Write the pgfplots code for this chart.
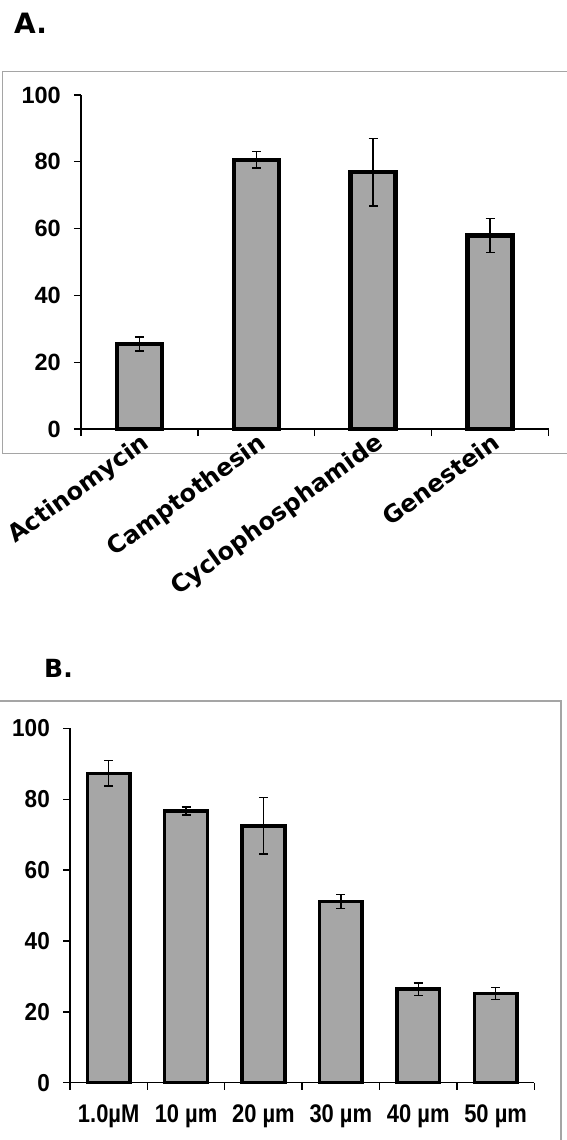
\documentclass[border=0pt]{standalone}
\usepackage{fontspec}
\setmainfont{Liberation Sans}
\newfontfamily\dejavu{DejaVu Sans}
\newfontfamily\narrowfont[FakeStretch=0.86]{Liberation Sans}
\newfontfamily\semifont[FakeStretch=0.92]{Liberation Sans}
\usepackage{pgfplots}
\pgfplotsset{compat=1.18}
\definecolor{barfill}{RGB}{166,166,166}
\definecolor{framegray}{RGB}{165,165,165}
\begin{document}
\begin{tikzpicture}[x=1pt,y=1pt]
\useasboundingbox (0,0) rectangle (567,-1140);
\draw[framegray, line width=1.5pt] (2.7,-71.7) rectangle (590,-453.3);
\draw[framegray, line width=1.5pt] (-10,-701) rectangle (561,-1160);
\node[anchor=base west, inner sep=0pt, font=\dejavu\bfseries\fontsize{28}{28}\selectfont] at (14,-34) {A.};
\node[anchor=base west, inner sep=0pt, font=\dejavu\bfseries\fontsize{25}{25}\selectfont] at (44,-677) {B.};

\begin{axis}[
  at={(81pt,-429pt)}, anchor=south west, scale only axis,
  width=467.5pt, height=334pt,
  xmin=-0.5, xmax=3.5, ymin=0, ymax=100,
  axis lines=left, axis line style={-, line width=1.5pt, black},
  tick align=outside, major tick length=7pt,
  tick style={line width=1.3pt, black},
  ytick={0,20,40,60,80,100},
  yticklabel={\pgfmathprintnumber{\tick}\hspace*{13pt}},
  yticklabel style={anchor=east, font=\bfseries\fontsize{23.5}{23.5}\selectfont, /pgf/number format/assume math mode=true, inner sep=0pt},
  xtick={-0.5,0.5,1.5,2.5,3.5}, xticklabels={,,,,},
  extra x ticks={0,1,2,3},
  extra x tick labels={Actinomycin,Camptothesin,Cyclophosphamide,Genestein},
  extra x tick style={major tick length=0pt, xticklabel style={rotate=36, anchor=north east, inner sep=0pt, font=\dejavu\bfseries\fontsize{24}{24}\selectfont, xshift=-1pt, yshift=-2pt}},
  clip=false,
]
\addplot[ybar, bar width=45pt, fill=barfill, draw=black, line width=4.5pt,
  error bars/.cd, y dir=both, y explicit,
  error bar style={line width=1.4pt, black},
  error mark options={rotate=90, line width=1.4pt, black, mark size=4.5pt}]
  coordinates {(0,25.5) +- (0,2.1) (1,80.6) +- (0,2.4) (2,76.9) +- (0,10.1) (3,58.0) +- (0,5.1)};
\end{axis}

\begin{axis}[
  at={(70pt,-1082.7pt)}, anchor=south west, scale only axis,
  width=464.3pt, height=354.3pt,
  xmin=-0.5, xmax=5.5, ymin=0, ymax=100,
  axis lines=left, axis line style={-, line width=1.5pt, black},
  tick align=outside, major tick length=7pt,
  tick style={line width=1.3pt, black},
  ytick={0,20,40,60,80,100},
  yticklabel={\pgfmathprintnumber{\tick}\hspace*{13pt}},
  yticklabel style={anchor=east, font=\semifont\bfseries\fontsize{24.5}{24.5}\selectfont, /pgf/number format/assume math mode=true, inner sep=0pt},
  xtick={-0.5,0.5,1.5,2.5,3.5,4.5,5.5}, xticklabels={,,,,,,},
  extra x ticks={0,1,2,3,4,5},
  extra x tick labels={1.0µM,10 µm,20 µm,30 µm,40 µm,50 µm},
  extra x tick style={major tick length=0pt, xticklabel style={anchor=north, inner sep=0pt, font=\narrowfont\bfseries\fontsize{25.5}{25.5}\selectfont, yshift=-22pt}},
  clip=false,
]
\addplot[ybar, bar width=42.7pt, fill=barfill, draw=black, line width=3.5pt,
  error bars/.cd, y dir=both, y explicit,
  error bar style={line width=1.4pt, black},
  error mark options={rotate=90, line width=1.4pt, black, mark size=4.5pt}]
  coordinates {(0,87.3) +- (0,3.6) (1,76.7) +- (0,1.1) (2,72.5) +- (0,8.0) (3,51.2) +- (0,2.0) (4,26.4) +- (0,1.7) (5,25.2) +- (0,1.7)};
\end{axis}
\end{tikzpicture}
\end{document}
